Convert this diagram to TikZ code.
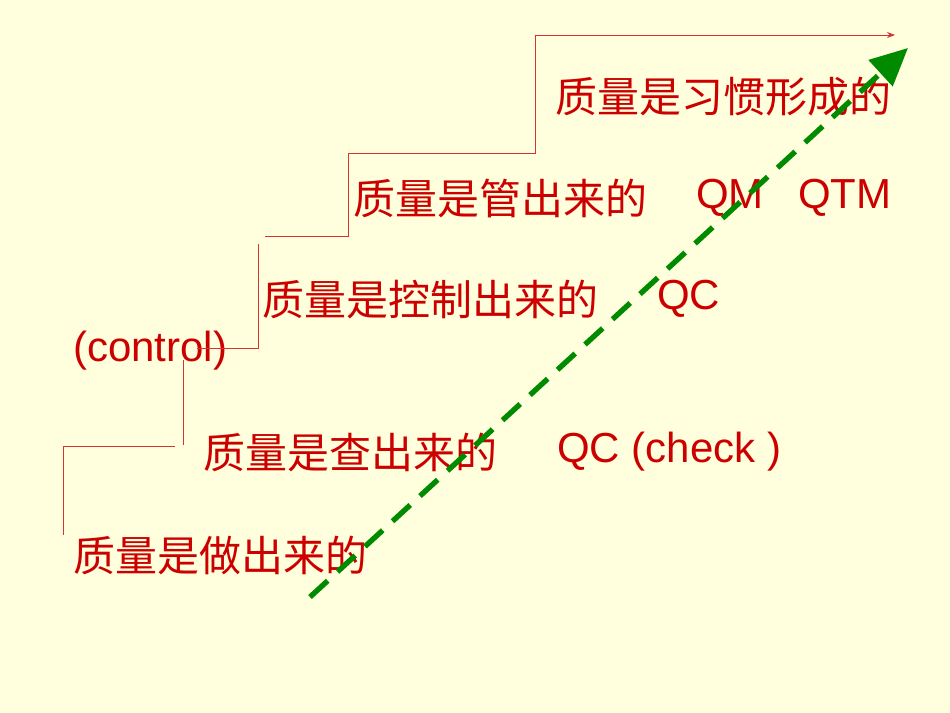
\documentclass[tikz,border=0pt]{standalone}
\usepackage{fontspec}
\setmainfont{Liberation Sans}
\newfontfamily\cjk{Noto Sans CJK SC}
\usetikzlibrary{arrows.meta, positioning}
\definecolor{bgyellow}{HTML}{FFFFDD}
\definecolor{stepred}{HTML}{CC0000}
\definecolor{arrowgreen}{HTML}{008A00}

\begin{document}
\begin{tikzpicture}[x=0.75pt, y=-0.75pt,
	txt/.style={anchor=west, inner sep=0pt, text=stepred, font=\fontsize{31.5}{36}\selectfont},
	stair/.style={draw=stepred!80, line width=0.6pt}]

		\fill[bgyellow] (0,0) rectangle (950,713);
		\useasboundingbox (0,0) rectangle (950,713);

		% Texte
		\node[txt] (s1) at (73,555) {\cjk 质量是做出来的};
		\node[txt] (s2) at (203,452) {\cjk 质量是查出来的};
		\node[txt] (s2qc) at (557,452) {QC (check )};
		\node[txt] (s3) at (262,299) {\cjk 质量是控制出来的};
		\node[txt] (s3qc) at (657,299) {QC};
		\node[txt] (ctl) at (73,351) {(control)};
		\node[txt] (s4) at (353,198) {\cjk 质量是管出来的};
		\node[txt] (s4qm) at (696,198) {QM};
		\node[txt] (s4qtm) at (798,198) {QTM};
		\node[txt] (s5) at (555,97) {\cjk 质量是习惯形成的};

		% Escalera
		\coordinate (p1) at (63,535);
		\coordinate (p2) at (175,446);
		\coordinate (p3) at (183,445);
		\coordinate (p3b) at (183,360);
		\coordinate (p4) at (197,348);
		\coordinate (p5) at (258,244);
		\coordinate (p6) at (265,236);
		\coordinate (p7) at (348,153);
		\coordinate (p8) at (535,35);
		\coordinate (p9) at (895,35);

		\draw[stair] (p1) |- (p2);
		\draw[stair] (p3b) -- (p3);
		\draw[stair] (p4) -| (p5);
		\draw[stair] (p6) -| (p7);
		\draw[stair] (p7) -| (p8);
		\draw[stair, -{Stealth[length=6pt]}] (p8) -- (p9);

		% Tendencia
		\coordinate (g1) at (310,597);
		\coordinate (g2) at (908,48);
		\draw[arrowgreen, line width=4pt, dash pattern=on 18pt off 10pt,
			-{Triangle[length=28pt, width=26pt]}] (g1) -- (g2);
	\end{tikzpicture}
\end{document}
